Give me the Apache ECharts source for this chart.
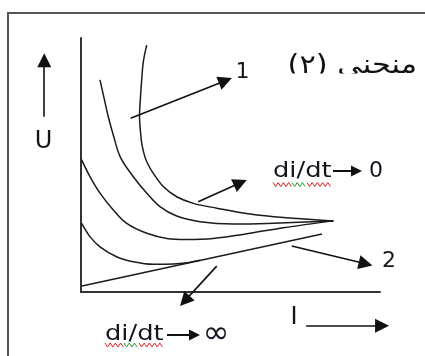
<!DOCTYPE html>
<html>
<head>
<meta charset="utf-8">
<script src="https://cdn.jsdelivr.net/npm/echarts@6/dist/echarts.min.js"></script>
<style>
  html, body { margin: 0; padding: 0; background: #fff; }
  #chart { width: 425px; height: 356px; }
</style>
</head>
<body>
<div id="chart"></div>
<script>
// U–I characteristic family, both axes on a relative 0–100 scale.
// Curves 1..4 run from the steepest (outer) to the flattest (inner).
const curve1 = [[21.97, 97.2], [20.84, 90.6], [20.3, 83.5], [19.83, 75.6], [19.57, 69.3], [19.9, 63.0],
  [20.4, 57.9], [21.4, 53.1], [22.6, 49.8], [24.2, 46.7], [27.5, 41.5], [32.0, 37.5], [37.6, 34.9],
  [45.4, 33.0], [56.5, 30.7], [67.7, 29.3], [84.4, 28.0]];
const curve2 = [[6.35, 83.5], [7.7, 76.4], [9.13, 69.0], [10.8, 61.8], [13.2, 53.0], [17.5, 45.4],
  [22.0, 38.9], [26.4, 33.6], [32.0, 29.9], [39.8, 27.7], [50.9, 26.8], [62.1, 27.0], [84.4, 28.0]];
const curve3 = [[0.23, 52.0], [3.0, 45.4], [6.35, 38.9], [10.8, 32.3], [15.3, 27.0], [22.0, 23.1],
  [28.7, 21.1], [35.4, 20.7], [44.2, 21.1], [56.5, 23.1], [67.7, 25.3], [84.4, 28.0]];
const curve4 = [[0.23, 27.0], [3.0, 21.8], [6.35, 17.8], [11.9, 13.9], [17.5, 11.9], [24.2, 10.9],
  [30.9, 11.0], [35.4, 11.5], [39.8, 12.5]];
// Straight characteristic (di/dt -> infinity)
const lineInf = [[0.33, 2.36], [80.6, 22.8]];

// Pointer arrows [from, to] in the same units; the last two are the axis arrows for U and I
const pointers = [
  [[16.6, 68.4], [48.3, 83.2]],
  [[39.2, 35.5], [53.3, 43.0]],
  [[70.5, 18.1], [95.2, 11.1]],
  [[45.4, 10.2], [34.7, -3.5]],
  [[-12.3, 69.0], [-12.3, 91.2]],
  [[75.3, -13.3], [100.7, -13.3]]
];

// Text labels
const titleText = 'منحنى (٢)';
const axisNameU = 'U';
const axisNameI = 'I';
const curveLabel1 = '1';
const curveLabel2 = '2';
const rateText = 'di/dt';
const rateZero = '0';
const rateInf = '∞';

const INK = '#1b1b1b';
const TXT = '#15151f';

function wave(x0, x1, y, step, amp) {
  const pts = [];
  let up = true;
  for (let x = x0; x <= x1 + 0.01; x += step) {
    pts.push([x, up ? y - amp : y + amp]);
    up = !up;
  }
  return pts;
}

function smallArrow(x0, x1, y) {
  return [
    { type: 'line', shape: { x1: x0, y1: y, x2: x1 - 8, y2: y }, style: { stroke: '#111', lineWidth: 2 } },
    { type: 'polygon', shape: { points: [[x1 - 11, y - 5.5], [x1, y], [x1 - 11, y + 5.5]] }, style: { fill: '#111' } }
  ];
}

function curveSeries(data) {
  return {
    type: 'line', data: data, smooth: 0.35, showSymbol: false, silent: true,
    lineStyle: { color: INK, width: 1.5 }
  };
}

function squiggle(x0, x1, xg0, xg1, y) {
  return [
    { type: 'polyline', shape: { points: wave(x0, xg0, y, 2.6, 2) }, style: { stroke: '#e02020', lineWidth: 1, fill: 'none' } },
    { type: 'polyline', shape: { points: wave(xg0, xg1, y, 2.6, 2) }, style: { stroke: '#2a9a2a', lineWidth: 1, fill: 'none' } },
    { type: 'polyline', shape: { points: wave(xg1, x1, y, 2.6, 2) }, style: { stroke: '#e02020', lineWidth: 1, fill: 'none' } }
  ];
}

const chart = echarts.init(document.getElementById('chart'), null, { renderer: 'canvas' });

const rateFont = '22px "DejaVu Sans"';

chart.setOption({
  animation: false,
  backgroundColor: '#fff',
  grid: { left: 81, right: 45, top: 38, bottom: 64 },
  xAxis: {
    type: 'value', min: 0, max: 100,
    axisLine: { show: true, lineStyle: { color: '#333', width: 2 } },
    axisTick: { show: false }, axisLabel: { show: false }, splitLine: { show: false }
  },
  yAxis: {
    type: 'value', min: 0, max: 100,
    axisLine: { show: true, lineStyle: { color: '#333', width: 2 } },
    axisTick: { show: false }, axisLabel: { show: false }, splitLine: { show: false }
  },
  series: [
    curveSeries(curve1),
    curveSeries(curve2),
    curveSeries(curve3),
    curveSeries(curve4),
    { type: 'line', data: lineInf, showSymbol: false, silent: true, lineStyle: { color: INK, width: 1.5 } },
    {
      type: 'lines', coordinateSystem: 'cartesian2d', clip: false, silent: true,
      symbol: ['none', 'triangle'], symbolSize: [0, 14],
      lineStyle: { color: '#111', width: 1.6, opacity: 1 },
      itemStyle: { color: '#111' },
      data: pointers.map(p => ({ coords: p }))
    }
  ],
  graphic: [
    { type: 'rect', shape: { x: 8, y: 13, width: 440, height: 370 }, style: { fill: 'none', stroke: '#555', lineWidth: 2 } },
    // title, its lower edge cut off by the white band below it
    { type: 'text', x: 417, y: 66, scaleX: 1.17, style: { text: titleText, font: '26px "DejaVu Sans"', fill: '#111', align: 'right', verticalAlign: 'middle' } },
    { type: 'rect', z: 50, shape: { x: 280, y: 73.5, width: 145, height: 18 }, style: { fill: '#fff' } },
    { type: 'text', x: 242.5, y: 72.5, style: { text: curveLabel1, font: '22px "DejaVu Sans"', fill: TXT, align: 'center', verticalAlign: 'middle' } },
    { type: 'text', x: 389, y: 261, style: { text: curveLabel2, font: '22px "DejaVu Sans"', fill: TXT, align: 'center', verticalAlign: 'middle' } },
    { type: 'text', x: 43.5, y: 142, style: { text: axisNameU, font: '24px "DejaVu Sans"', fill: TXT, align: 'center', verticalAlign: 'middle' } },
    { type: 'text', x: 294, y: 318, style: { text: axisNameI, font: '24px "DejaVu Sans"', fill: TXT, align: 'center', verticalAlign: 'middle' } },
    // di/dt -> 0
    { type: 'text', x: 273, y: 171, scaleX: 1.17, style: { text: rateText, font: rateFont, fill: TXT, align: 'left', verticalAlign: 'middle' } },
    ...smallArrow(333, 362, 171),
    { type: 'text', x: 376, y: 171, style: { text: rateZero, font: rateFont, fill: TXT, align: 'center', verticalAlign: 'middle' } },
    ...squiggle(273, 332, 292, 307, 184.5),
    // di/dt -> infinity
    { type: 'text', x: 105, y: 334, scaleX: 1.17, style: { text: rateText, font: rateFont, fill: TXT, align: 'left', verticalAlign: 'middle' } },
    ...smallArrow(167, 200, 335),
    { type: 'text', x: 216, y: 335, style: { text: rateInf, font: '32px "DejaVu Sans"', fill: TXT, align: 'center', verticalAlign: 'middle' } },
    ...squiggle(105, 163, 124, 139, 345)
  ]
});
</script>
</body>
</html>
